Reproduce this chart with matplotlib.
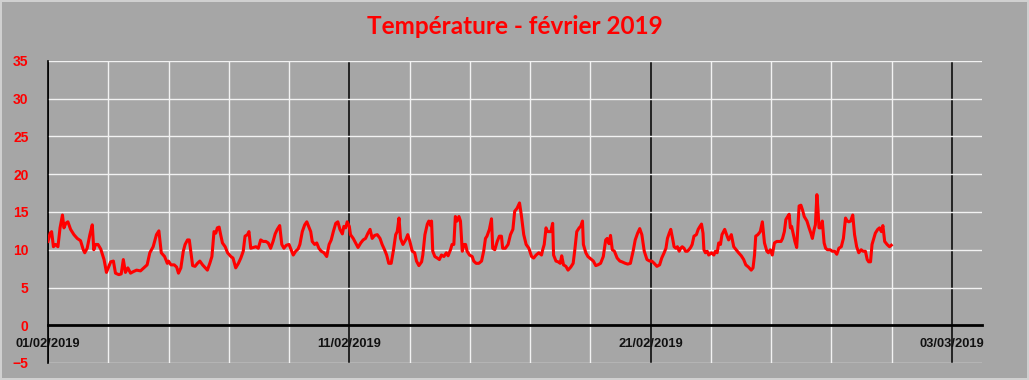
import pandas as pd
import matplotlib
matplotlib.use("Agg")
import matplotlib.pyplot as plt

# days since 01/02/2019 00:00, and temperature (°C)
jours = [
    0.00, 0.07, 0.12, 0.18, 0.25, 0.33, 0.40, 0.48, 0.53, 0.59, 0.66, 0.75, 0.86, 0.97,
    1.08, 1.17, 1.22, 1.30, 1.39, 1.47, 1.52, 1.58, 1.66, 1.75, 1.86, 1.94, 2.08, 2.17,
    2.24, 2.35, 2.43, 2.50, 2.57, 2.65, 2.74, 2.83, 2.94, 3.07, 3.18, 3.29, 3.38, 3.49,
    3.60, 3.68, 3.76, 3.87, 3.96,
    4.00, 4.08, 4.19, 4.27, 4.33, 4.41, 4.49, 4.55, 4.63, 4.69, 4.74, 4.80, 4.88, 4.96,
    5.04, 5.13, 5.22, 5.29, 5.37, 5.44, 5.51, 5.57, 5.62, 5.68, 5.73, 5.79, 5.88, 5.96,
    6.07, 6.14, 6.23, 6.32, 6.40, 6.48, 6.54, 6.62, 6.67, 6.73, 6.81, 6.90, 6.98, 7.06,
    7.14, 7.23, 7.31, 7.39, 7.47, 7.54, 7.61, 7.69, 7.76, 7.83, 7.91, 8.00, 8.09,
    8.14, 8.22, 8.30, 8.36, 8.44, 8.52, 8.59, 8.66, 8.72, 8.77, 8.85, 8.92, 8.99, 9.07,
    9.16, 9.25, 9.33, 9.40, 9.47, 9.55, 9.62, 9.69, 9.77, 9.82, 9.88, 9.93, 10.00, 10.04,
    10.13, 10.21, 10.29, 10.38, 10.46, 10.54, 10.62, 10.69, 10.76, 10.84, 10.93, 11.02,
    11.09, 11.17, 11.24, 11.31, 11.39, 11.46, 11.54, 11.59, 11.65, 11.70, 11.78, 11.87,
    11.94, 12.01, 12.09, 12.17, 12.23,
    12.31, 12.40, 12.44, 12.51, 12.59, 12.64, 12.70, 12.73, 12.77, 12.84, 12.92, 12.99,
    13.06, 13.14, 13.22, 13.28, 13.36, 13.41, 13.47, 13.52, 13.58, 13.64, 13.69, 13.75,
    13.80, 13.86, 13.91, 13.99, 14.08, 14.13, 14.21, 14.30, 14.39, 14.46, 14.52, 14.57,
    14.65, 14.72, 14.76, 14.83, 14.91, 14.98, 15.05, 15.09, 15.18, 15.27, 15.35, 15.43,
    15.49, 15.57, 15.65, 15.71, 15.79, 15.87, 15.96, 16.05, 16.12, 16.20, 16.29, 16.38,
    16.42, 16.47, 16.53, 16.58, 16.64, 16.69, 16.75, 16.78, 16.86, 16.93, 17.00, 17.05,
    17.11, 17.19, 17.26, 17.35, 17.43, 17.48, 17.55, 17.63, 17.68, 17.74, 17.77, 17.85,
    17.92, 18.01, 18.10, 18.18, 18.25, 18.34, 18.43, 18.51, 18.56, 18.62, 18.67, 18.73,
    18.80, 18.89, 18.98, 19.05, 19.16, 19.24, 19.33, 19.42, 19.49, 19.57, 19.64, 19.71,
    19.79, 19.88, 19.97, 20.04, 20.12, 20.21, 20.30, 20.37, 20.45,
    20.51, 20.56, 20.62, 20.67, 20.73, 20.78, 20.84, 20.89, 20.95, 21.00, 21.05, 21.11,
    21.16, 21.22, 21.27, 21.33, 21.38, 21.44, 21.52, 21.58, 21.64, 21.69, 21.74, 21.77,
    21.82, 21.88, 21.93, 22.02, 22.10, 22.15, 22.21, 22.26, 22.32, 22.37, 22.46, 22.54,
    22.59, 22.68, 22.76, 22.84, 22.92, 23.01, 23.09, 23.16, 23.25, 23.34, 23.40, 23.45,
    23.49, 23.56, 23.64, 23.71, 23.78, 23.86, 23.91, 23.97, 24.04, 24.11, 24.19, 24.26,
    24.33, 24.38, 24.44, 24.49, 24.55, 24.60, 24.64, 24.68, 24.74, 24.79, 24.85, 24.90,
    24.93, 24.99, 25.04, 25.10, 25.19, 25.26, 25.32, 25.37, 25.43, 25.47, 25.52, 25.56,
    25.59, 25.65, 25.70, 25.76, 25.81, 25.87, 25.96, 26.03, 26.11, 26.18, 26.25, 26.33,
    26.40, 26.47, 26.53, 26.58, 26.64, 26.71, 26.77, 26.84, 26.91, 26.99, 27.05, 27.13,
    27.19, 27.24, 27.30, 27.35, 27.41, 27.46, 27.54, 27.60, 27.66, 27.71, 27.77, 27.85,
    27.93, 27.99,
]
temp = [
    11.1, 12.2, 12.4, 10.4, 10.7, 10.4, 12.9, 14.6, 12.9, 13.5, 13.7, 12.7, 12.0, 11.5,
    11.2, 10.0, 9.6, 10.2, 12.0, 13.3, 10.0, 10.7, 10.7, 10.1, 8.7, 7.0, 8.4, 8.5,
    6.9, 6.7, 6.8, 8.7, 7.0, 7.6, 6.9, 7.1, 7.3, 7.2, 7.6, 8.0, 9.6, 10.4,
    12.0, 12.5, 9.6, 9.1, 8.2,
    8.5, 8.0, 8.0, 7.7, 6.9, 7.6, 9.8, 10.7, 11.3, 11.3, 9.8, 7.9, 7.8, 8.2,
    8.5, 8.0, 7.6, 7.3, 8.2, 9.1, 12.4, 12.2, 12.9, 13.0, 12.0, 10.9, 10.4, 9.6,
    9.1, 8.9, 7.6, 8.2, 8.9, 9.8, 11.8, 12.0, 12.4, 10.2, 10.3, 10.4, 10.2, 11.3,
    11.1, 11.1, 10.9, 10.2, 11.1, 12.1, 12.7, 13.2, 10.7, 10.2, 10.6, 10.7, 9.8,
    9.3, 9.8, 10.1, 10.7, 12.4, 13.3, 13.7, 13.0, 12.4, 11.1, 10.7, 10.9, 10.2, 9.8,
    9.6, 9.1, 10.7, 11.3, 12.4, 13.5, 13.7, 12.7, 12.1, 13.1, 12.9, 13.7, 13.1, 12.0,
    11.5, 10.9, 10.3, 10.9, 11.3, 11.5, 12.2, 12.7, 11.5, 11.9, 12.0, 11.5,
    10.7, 10.0, 9.3, 8.2, 8.2, 9.8, 12.0, 12.4, 14.2, 11.5, 10.7, 11.3,
    12.0, 11.1, 9.8, 9.6, 8.5,
    7.9, 8.4, 9.3, 12.0, 13.4, 13.8, 13.2, 13.8, 9.8, 9.1, 8.9, 8.7,
    9.3, 9.1, 9.6, 9.2, 10.0, 10.7, 10.7, 14.4, 13.8, 14.4, 13.8, 9.8,
    10.7, 10.7, 9.8, 9.3, 9.1, 8.5, 8.2, 8.2, 8.5, 9.8, 11.5, 11.8,
    12.7, 14.1, 10.2, 10.0, 11.1, 11.8, 11.8, 10.2, 10.2, 10.7, 12.0, 12.7,
    15.1, 15.5, 16.2, 14.6, 12.0, 10.7, 10.2, 9.1, 8.9, 9.3, 9.6, 9.3,
    10.0, 10.7, 12.9, 12.4, 12.4, 12.4, 13.5, 9.3, 8.5, 8.4, 8.2, 9.2,
    8.0, 7.8, 7.3, 7.7, 8.2, 9.8, 12.4, 12.9, 13.1, 13.8, 10.7, 9.6,
    9.1, 8.8, 8.5, 7.9, 8.0, 8.2, 9.1, 11.3, 11.5, 10.8, 11.9, 10.0,
    9.8, 8.9, 8.5, 8.4, 8.2, 8.1, 8.2, 9.8, 11.3, 12.2, 12.8, 12.0,
    9.8, 8.7, 8.5, 8.5, 8.2, 7.8, 8.0, 8.9, 9.6,
    10.2, 11.5, 12.2, 12.7, 11.5, 10.4, 10.2, 10.4, 9.8, 10.2, 10.4, 10.2,
    9.8, 9.8, 10.0, 10.3, 10.7, 11.8, 12.0, 12.7, 13.1, 13.4, 12.2, 10.0,
    9.6, 9.8, 9.3, 9.6, 9.3, 9.8, 9.6, 10.9, 10.7, 12.0, 12.7, 11.8,
    11.3, 12.0, 10.4, 10.0, 9.6, 9.2, 8.7, 8.0, 7.7, 7.3, 7.6, 9.3,
    11.8, 12.0, 12.4, 13.7, 10.9, 9.8, 9.6, 10.0, 9.3, 10.9, 11.1, 11.1,
    11.1, 11.5, 12.4, 14.0, 14.4, 14.7, 12.9, 13.1, 12.0, 11.1, 10.3, 13.8,
    15.8, 15.9, 15.3, 14.4, 13.8, 12.9, 12.2, 11.5, 12.7, 13.3, 17.3, 15.1,
    12.9, 12.9, 13.8, 10.9, 10.2, 10.0, 10.0, 9.8, 9.8, 9.4, 10.2, 10.4,
    11.5, 14.2, 13.8, 13.7, 13.8, 14.6, 12.0, 10.4, 9.6, 10.0, 9.8, 9.8,
    8.7, 8.4, 8.4, 10.7, 11.5, 12.2, 12.7, 12.9, 12.4, 13.2, 11.1, 10.7,
    10.4, 10.6,
]
dates_labels = ["2019-02-01", "2019-02-11", "2019-02-21", "2019-03-03"]
y_ticks = [-5, 0, 5, 10, 15, 20, 25, 30, 35]

debut = pd.Timestamp("2019-02-01")
dates = debut + pd.to_timedelta(jours, unit="D")

bg = "#a6a6a6"
fig = plt.figure(figsize=(10.29, 3.8), dpi=100, facecolor=bg)
fig.patch.set_edgecolor("#d0d0d0")
fig.patch.set_linewidth(1.5)
ax = fig.add_axes([48 / 1029, 1 - 363 / 380, (982 - 48) / 1029, (363 - 61) / 380])
ax.set_facecolor(bg)

ax.plot(dates, temp, color="#ff0000", lw=2.2, zorder=3)

ax.set_ylim(-5, 35)
ax.set_yticks(y_ticks)
ax.set_xlim(debut, debut + pd.Timedelta(days=31))
ax.set_xticks(pd.to_datetime(dates_labels))
ax.set_xticklabels([pd.Timestamp(d).strftime("%d/%m/%Y") for d in dates_labels])
ax.set_xticks(pd.date_range("2019-02-01", "2019-03-04", freq="2D"), minor=True)

ax.set_axisbelow(True)
ax.grid(axis="y", color="#f2f2f2", lw=1.0)
ax.grid(axis="x", which="minor", color="#f2f2f2", lw=1.0)
ax.grid(axis="x", which="major", color="black", lw=1.1)

for s in ["top", "right"]:
    ax.spines[s].set_visible(False)
ax.spines["left"].set_color("black")
ax.spines["left"].set_linewidth(1.2)
ax.spines["bottom"].set_position(("data", 0))
ax.spines["bottom"].set_color("black")
ax.spines["bottom"].set_linewidth(2)

ax.tick_params(axis="y", length=0, pad=14, labelcolor="#ff0000", labelsize=10)
ax.tick_params(axis="x", which="both", length=0, pad=9, labelcolor="#111111", labelsize=9.3)
for lab in ax.get_yticklabels() + ax.get_xticklabels():
    lab.set_fontfamily("Liberation Sans")
    lab.set_fontweight("bold")

fig.text(0.5, 1 - 26 / 380, "Température - février 2019", ha="center", va="center",
         color="#ff0000", fontsize=17.5, fontweight="bold", family="Lato")

fig.savefig("out.png", dpi=100, facecolor=bg, edgecolor=fig.get_edgecolor())
